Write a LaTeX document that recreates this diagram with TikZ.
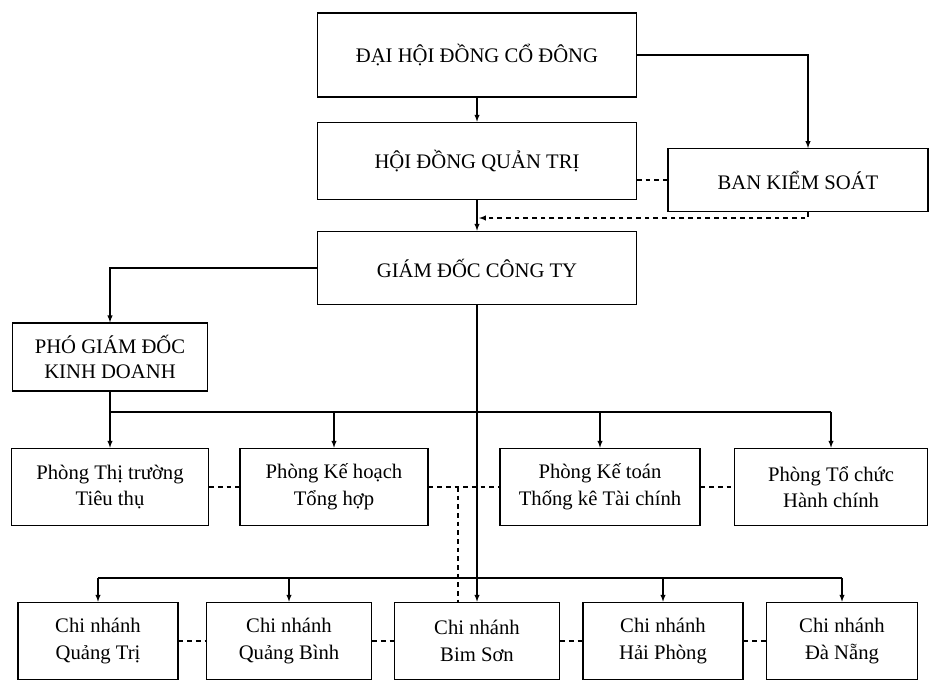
\documentclass[tikz,border=0pt]{standalone}
\usepackage{fontspec}
\setmainfont{Liberation Serif}
\usetikzlibrary{arrows}
\tikzset{blk/.style = {draw, line width=0.9pt, align=center, inner sep=0,
    font=\fontsize{15.5}{19}\selectfont}}
\tikzset{unit/.style = {draw, line width=0.9pt, align=center, inner sep=0,
    minimum height=58pt, font=\fontsize{15.5}{20}\selectfont}}
\tikzset{arr/.style = {-latex, line width=0.8pt}}
\tikzset{dsh/.style = {line width=0.8pt, dash pattern=on 3.5pt off 3pt}}

\begin{document}
\begin{tikzpicture}[x=0.75pt, y=-0.75pt]
      \useasboundingbox (0, 0) rectangle (930, 692);
      % top levels
      \node [blk, minimum width=239pt, minimum height=63pt] (dhdcd) at (477, 55) {ĐẠI HỘI ĐỒNG CỔ ĐÔNG};
      \node [blk, minimum width=239pt, minimum height=58pt] (hdqt) at (477, 161) {HỘI ĐỒNG QUẢN TRỊ};
      \node [blk, minimum width=195pt, minimum height=47pt] (bks) at (798, 180) {BAN KIỂM SOÁT};
      \node [blk, minimum width=239pt, minimum height=55pt] (gd) at (477, 268) {GIÁM ĐỐC CÔNG TY};
      \node [blk, minimum width=146pt, minimum height=51pt] (pgd) at (110, 357) {PHÓ GIÁM ĐỐC\\KINH DOANH};
      % phong ban
      \node [unit, minimum width=148pt] (ptt) at (110, 487) {Phòng Thị trường\\Tiêu thụ};
      \node [unit, minimum width=141pt] (pkh) at (334, 487) {Phòng Kế hoạch\\Tổng hợp};
      \node [unit, minimum width=150pt] (pkt) at (600, 487) {Phòng Kế toán\\Thống kê Tài chính};
      \node [unit, minimum width=145pt] (ptc) at (831, 487) {Phòng Tổ chức\\Hành chính};
      % chi nhanh
      \node [unit, minimum width=120pt] (cnqt) at (98, 641) {Chi nhánh\\Quảng Trị};
      \node [unit, minimum width=124pt] (cnqb) at (289, 641) {Chi nhánh\\Quảng Bình};
      \node [unit, minimum width=124pt] (cnbs) at (477, 641) {Chi nhánh\\Bim Sơn};
      \node [unit, minimum width=120pt] (cnhp) at (663, 641) {Chi nhánh\\Hải Phòng};
      \node [unit, minimum width=113pt] (cndn) at (842, 641) {Chi nhánh\\Đà Nẵng};
      \coordinate (bus1) at (0, 412);
      \coordinate (bus2) at (0, 578);
      \coordinate (back) at (479, 218);
      \coordinate (dv) at (458, 487);
      % connectors
      \draw [arr] (dhdcd) -- (hdqt);
      \draw [arr] (dhdcd.east) -| ([xshift=7.5pt]bks.north);
      \draw [dsh] (hdqt.east |- bks) -- (bks);
      \draw [arr] (hdqt) -- (gd);
      \draw [dsh, -latex] ([xshift=7.5pt]bks.south) |- (back);
      \draw [arr] (gd) -| (pgd);
      \draw [arr] (gd.south) -- (gd.south |- cnbs.north);
      \draw [line width=0.8pt] (pgd.south) |- (ptc.north |- bus1);
      \foreach \n in {ptt, pkh, pkt, ptc}
        \draw [arr] (\n.north |- bus1) -- (\n.north);
      \draw [line width=0.8pt] (cnqt.north |- bus2) -- (cndn.north |- bus2);
      \foreach \n in {cnqt, cnqb, cnhp, cndn}
        \draw [arr] (\n.north |- bus2) -- (\n.north);
      \foreach \a/\b in {ptt/pkh, pkh/pkt, pkt/ptc, cnqt/cnqb, cnqb/cnbs, cnbs/cnhp, cnhp/cndn}
        \draw [dsh] (\a) -- (\b);
      \draw [dsh] (dv) -- (dv |- cnbs.north);
    \end{tikzpicture}
\end{document}
